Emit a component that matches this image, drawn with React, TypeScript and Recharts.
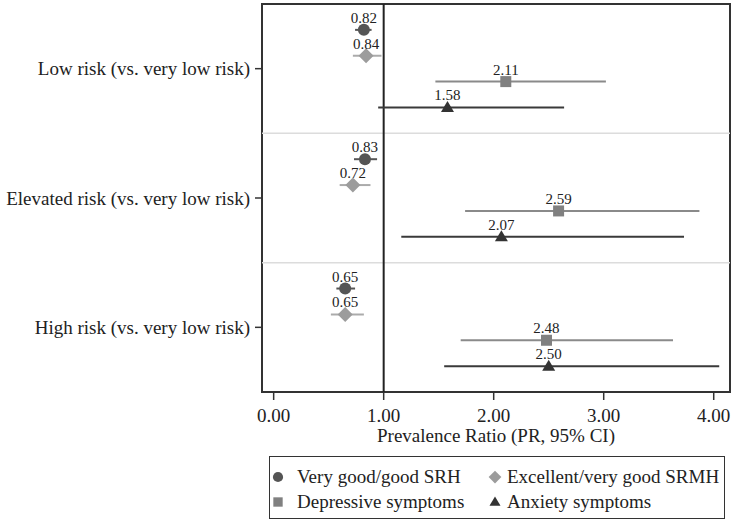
import {
  ScatterChart,
  Scatter,
  XAxis,
  YAxis,
  ErrorBar,
  ReferenceLine,
  ReferenceArea,
} from "recharts";

const FONT = '"Liberation Serif", "Times New Roman", serif';

const groups = [
  "Low risk (vs. very low risk)",
  "Elevated risk (vs. very low risk)",
  "High risk (vs. very low risk)",
];

// prevalence ratios and 95% CI bounds, one value per risk group
const srhPR = [0.82, 0.83, 0.65];
const srhLo = [0.74, 0.73, 0.57];
const srhHi = [0.89, 0.94, 0.74];

const srmhPR = [0.84, 0.72, 0.65];
const srmhLo = [0.72, 0.6, 0.52];
const srmhHi = [0.98, 0.88, 0.82];

const depPR = [2.11, 2.59, 2.48];
const depLo = [1.47, 1.74, 1.7];
const depHi = [3.02, 3.87, 3.63];

const anxPR = [1.58, 2.07, 2.5];
const anxLo = [0.95, 1.16, 1.55];
const anxHi = [2.64, 3.73, 4.05];

const xTicks = [0, 1, 2, 3, 4];

type Kind = "circle" | "diamond" | "square" | "triangle";

const buildRows = (pr: number[], lo: number[], hi: number[], slot: number) =>
  pr.map((v, i) => ({
    x: v,
    y: i + 0.5 + (slot - 1.5) * 0.2,
    err: [v - lo[i], hi[i] - v],
  }));

const series: {
  name: string;
  kind: Kind;
  fill: string;
  line: string;
  rows: ReturnType<typeof buildRows>;
}[] = [
  { name: "Very good/good SRH", kind: "circle", fill: "#555555", line: "#555555", rows: buildRows(srhPR, srhLo, srhHi, 0) },
  { name: "Excellent/very good SRMH", kind: "diamond", fill: "#9c9c9c", line: "#ababab", rows: buildRows(srmhPR, srmhLo, srmhHi, 1) },
  { name: "Depressive symptoms", kind: "square", fill: "#808080", line: "#8a8a8a", rows: buildRows(depPR, depLo, depHi, 2) },
  { name: "Anxiety symptoms", kind: "triangle", fill: "#333333", line: "#3a3a3a", rows: buildRows(anxPR, anxLo, anxHi, 3) },
];

function Marker({ kind, cx, cy, fill, s = 1 }: { kind: Kind; cx: number; cy: number; fill: string; s?: number }) {
  if (kind === "circle") return <circle cx={cx} cy={cy} r={6 * s} fill={fill} />;
  if (kind === "diamond") {
    const d = 7.5 * s;
    return <path d={`M${cx},${cy - d}L${cx + d},${cy}L${cx},${cy + d}L${cx - d},${cy}Z`} fill={fill} />;
  }
  if (kind === "square") {
    const h = 5.5 * s;
    return <rect x={cx - h} y={cy - h} width={2 * h} height={2 * h} fill={fill} />;
  }
  const w = 6.5 * s;
  return <path d={`M${cx},${cy - 6.5 * s}L${cx + w},${cy + 4.5 * s}L${cx - w},${cy + 4.5 * s}Z`} fill={fill} />;
}

const makeShape = (kind: Kind, fill: string) => (props: any) => {
  const { cx, cy, payload } = props;
  return (
    <g>
      <Marker kind={kind} cx={cx} cy={cy} fill={fill} />
      <text x={cx} y={cy - 7} textAnchor="middle" fontSize={15} fontFamily={FONT} fill="#222">
        {payload.x.toFixed(2)}
      </text>
    </g>
  );
};

export default function App() {
  return (
    <div style={{ position: "relative", width: 735, height: 523, fontFamily: FONT, background: "#fff" }}>
      <style>{"body{margin:0}"}</style>
      <ScatterChart width={735} height={452} margin={{ top: 4, right: 5, left: 0, bottom: 0 }}>
        <XAxis
          type="number"
          dataKey="x"
          domain={[-0.106, 4.148]}
          allowDataOverflow
          ticks={xTicks}
          tickFormatter={(v: number) => v.toFixed(2)}
          axisLine={false}
          tickLine={{ stroke: "#333", strokeWidth: 1.5 }}
          tickSize={8}
          tickMargin={9}
          height={60}
          tick={{ fontSize: 19, fill: "#222", fontFamily: FONT }}
          label={{
            value: "Prevalence Ratio (PR, 95% CI)",
            position: "insideBottom",
            offset: 10,
            style: { fontSize: 19, fill: "#222", fontFamily: FONT },
          }}
        />
        <YAxis
          type="number"
          dataKey="y"
          domain={[0, 3]}
          reversed
          ticks={[0.5, 1.5, 2.5]}
          tickFormatter={(v: number) => groups[Math.floor(v)]}
          axisLine={false}
          tickLine={{ stroke: "#333", strokeWidth: 1.5 }}
          tickSize={7}
          tickMargin={5}
          width={262}
          tick={{ fontSize: 19, fill: "#222", fontFamily: FONT }}
        />
        <ReferenceLine y={1} stroke="#dcdcdc" strokeWidth={1.5} />
        <ReferenceLine y={2} stroke="#dcdcdc" strokeWidth={1.5} />
        <ReferenceLine x={1} stroke="#222" strokeWidth={2} />
        <ReferenceArea x1={-0.106} x2={4.148} y1={0} y2={3} fill="none" stroke="#333" strokeWidth={2} />
        {series.map((s) => (
          <Scatter
            key={s.name}
            name={s.name}
            data={s.rows}
            shape={makeShape(s.kind, s.fill)}
            isAnimationActive={false}
          >
            <ErrorBar dataKey="err" direction="x" width={0} stroke={s.line} strokeWidth={2} isAnimationActive={false} />
          </Scatter>
        ))}
      </ScatterChart>

      {/* legend box under the plot */}
      <div
        style={{
          position: "absolute",
          left: 269,
          top: 456,
          width: 456,
          height: 63,
          boxSizing: "border-box",
          border: "1.5px solid #333",
          fontSize: 19,
          color: "#222",
        }}
      >
        {series.map((s, i) => {
          const col = i % 2;
          const row = Math.floor(i / 2);
          const top = row === 0 ? 20 : 45;
          return (
            <div key={s.name}>
              <svg
                width={16}
                height={16}
                style={{ position: "absolute", left: (col === 0 ? 8 : 225) - 8, top: top - 8 }}
              >
                <Marker kind={s.kind} cx={8} cy={8} fill={s.fill} s={0.85} />
              </svg>
              <span
                style={{
                  position: "absolute",
                  left: col === 0 ? 27 : 237,
                  top: top - 12,
                  lineHeight: "24px",
                  whiteSpace: "nowrap",
                }}
              >
                {s.name}
              </span>
            </div>
          );
        })}
      </div>
    </div>
  );
}
